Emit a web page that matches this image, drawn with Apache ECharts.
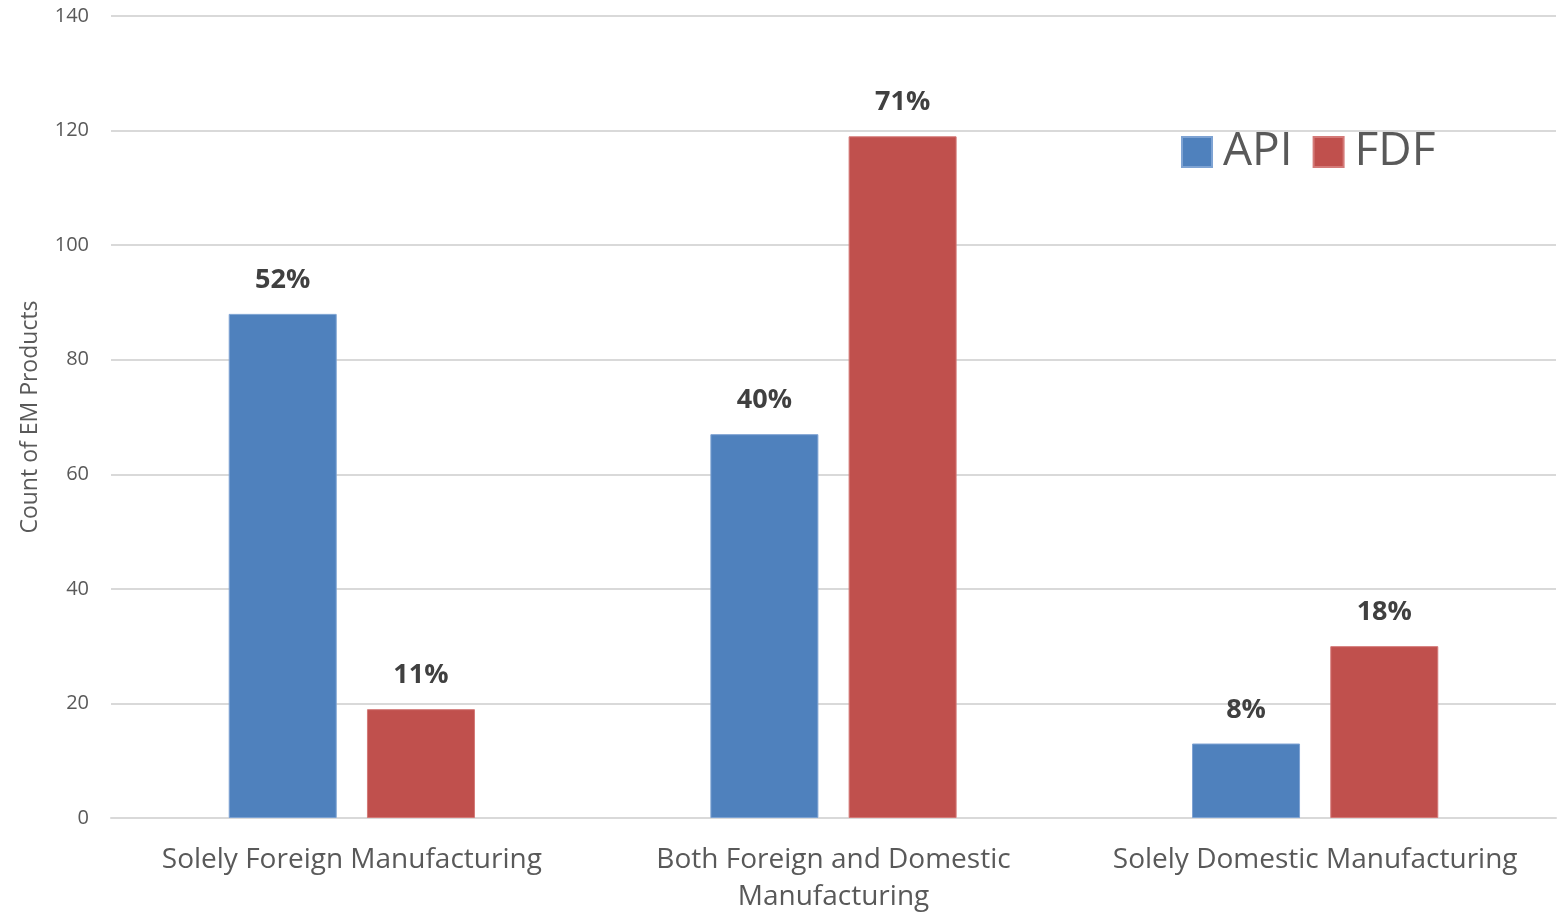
<!DOCTYPE html>
<html>
<head>
<meta charset="utf-8">
<script src="https://cdn.jsdelivr.net/npm/echarts@6/dist/echarts.min.js"></script>
<style>html,body{margin:0;padding:0;background:#fff}#c{width:1561px;height:913px}</style>
</head>
<body>
<div id="c"></div>
<script>
const categories = ['Solely Foreign Manufacturing', 'Both Foreign and Domestic\nManufacturing', 'Solely Domestic Manufacturing'];
const apiValues = [88, 67, 13];
const fdfValues = [19, 119, 30];
const apiLabels = ['52%', '40%', '8%'];
const fdfLabels = ['11%', '71%', '18%'];
const yTicks = { min: 0, max: 140, interval: 20 };

const FONT = '"Open Sans", "Noto Sans", sans-serif';
const chart = echarts.init(document.getElementById('c'));

function labelCfg(labels) {
  return {
    show: true, position: 'top', distance: 20,
    fontFamily: FONT, fontSize: 27, fontWeight: 'bold', color: '#404040',
    formatter: p => labels[p.dataIndex]
  };
}

chart.setOption({
  animation: false,
  textStyle: { fontFamily: FONT },
  grid: { left: 111, right: 5, top: 16, bottom: 95, outerBoundsMode: 'none', containLabel: false },
  legend: {
    left: 1176, top: 124,
    itemWidth: 30, itemHeight: 30, itemGap: 20,
    icon: 'rect',
    textStyle: { fontFamily: FONT, fontSize: 46, color: '#595959', padding: [0, 0, 0, 6] },
    data: ['API', 'FDF']
  },
  xAxis: {
    type: 'category', data: categories,
    axisLine: { show: true, lineStyle: { color: '#d9d9d9', width: 2 } },
    axisTick: { show: false },
    axisLabel: { fontFamily: FONT, fontSize: 28, color: '#595959', margin: 24, lineHeight: 37, interval: 0 }
  },
  yAxis: {
    type: 'value', min: yTicks.min, max: yTicks.max, interval: yTicks.interval,
    name: 'Count of EM Products', nameLocation: 'middle', nameGap: 69, nameRotate: 90,
    nameTextStyle: { fontFamily: FONT, fontSize: 23, color: '#595959' },
    axisLine: { show: false }, axisTick: { show: false },
    axisLabel: { fontFamily: FONT, fontSize: 20, color: '#595959', margin: 22 },
    splitLine: { lineStyle: { color: '#d9d9d9', width: 2 } }
  },
  series: [
    { name: 'API', type: 'bar', data: apiValues, barWidth: 108, barGap: '28%',
      itemStyle: { color: '#4F81BD', borderColor: '#7ea3d3', borderWidth: 1 },
      label: labelCfg(apiLabels) },
    { name: 'FDF', type: 'bar', data: fdfValues, barWidth: 108,
      itemStyle: { color: '#C0504D', borderColor: '#d47a78', borderWidth: 1 },
      label: labelCfg(fdfLabels) }
  ]
});
</script>
</body>
</html>
